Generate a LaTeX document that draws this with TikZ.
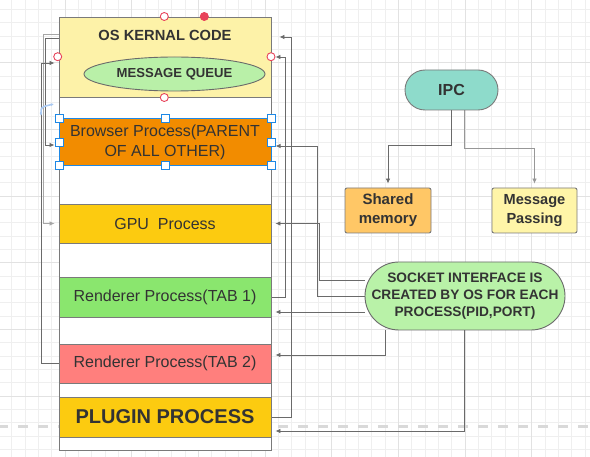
\documentclass[tikz,border=0pt]{standalone}
\usepackage{fontspec}
\setmainfont{Liberation Sans}
\usetikzlibrary{arrows.meta,shapes.geometric,calc}
\pgfdeclarelayer{bg}
\pgfdeclarelayer{conn}
\pgfsetlayers{bg,conn,main}
\definecolor{txt}{HTML}{333333}
\definecolor{boxline}{HTML}{7A7A7A}
\definecolor{connc}{HTML}{6A6A6A}
\definecolor{gridminor}{HTML}{EFEFEF}
\definecolor{gridmajor}{HTML}{E2E2E2}
\definecolor{dashc}{HTML}{D9D9D9}
\definecolor{kernelc}{HTML}{FDF2A8}
\definecolor{mqc}{HTML}{B9F0A8}
\definecolor{browserc}{HTML}{F28C00}
\definecolor{goldc}{HTML}{FCCB10}
\definecolor{tabonec}{HTML}{8AE66E}
\definecolor{tabtwoc}{HTML}{FF7F7D}
\definecolor{ipcc}{HTML}{8EDBCB}
\definecolor{sharedc}{HTML}{FFC766}
\definecolor{msgc}{HTML}{FFF5A8}
\definecolor{socketc}{HTML}{B9F2A8}
\definecolor{handleblue}{HTML}{1E88E5}
\definecolor{portred}{HTML}{E8435A}
\definecolor{rotc}{HTML}{A9C9F2}
\begin{document}
\begin{tikzpicture}[x=1pt,y=-1pt,
  box/.style={draw=boxline, line width=0.9pt, minimum width=212pt, inner sep=0pt, text=txt, align=center},
  conn/.style={draw=connc, line width=0.8pt, -{Latex[length=5pt,width=4.5pt]}, shorten >=4pt},
  handle/.style={draw=handleblue, fill=white, line width=1pt, minimum size=8pt, inner sep=0pt},
  port/.style={circle, draw=portred, fill=white, line width=0.9pt, minimum size=8pt, inner sep=0pt},
  regular/.style={font=\fontsize{16}{20}\selectfont},
  boldtxt/.style={font=\fontsize{#1}{19}\selectfont\bfseries}
]
\useasboundingbox (0,0) rectangle (590,457);
\begin{pgfonlayer}{bg}
  \fill[white] (0,0) rectangle (590,457);
  \foreach \i in {0,...,43} \draw[gridminor, line width=0.6pt] ({11.667+13.333*\i},0) -- ++(0,457);
  \foreach \j in {0,...,33} \draw[gridminor, line width=0.6pt] (0,{9.333+13.333*\j}) -- ++(590,0);
  \foreach \i in {0,...,8} \draw[gridmajor, line width=0.8pt] ({65+66.667*\i},0) -- ++(0,457);
  \foreach \j in {0,...,6} \draw[gridmajor, line width=0.8pt] (0,{62.667+66.667*\j}) -- ++(590,0);
  \draw[dashc, line width=3pt, dash pattern=on 10pt off 10pt] (-2,427) -- (590,427);
\end{pgfonlayer}

% outer column
\node[box, minimum height=433pt, fill=white] (outer) at (165,233.5) {};
\node[box, minimum height=80pt, fill=kernelc] (kernel) at (165,57) {};
\node[boldtxt=14.7, text=txt] (ktitle) at (165,35) {OS KERNAL CODE};
\node[ellipse, draw=connc, line width=0.9pt, fill=mqc, minimum width=181pt, minimum height=34pt, inner sep=0pt, boldtxt=13.1, text=txt] (mq) at (174.5,74) {MESSAGE QUEUE};

\node[box, draw=handleblue, line width=1pt, minimum height=47pt, fill=browserc, regular] (browser) at (165,142.5) {Browser Process(PARENT\\OF ALL OTHER)};
\node[box, minimum height=39pt, fill=goldc, regular] (gpu) at (165,223.5) {GPU\ \ Process};
\node[box, minimum height=40pt, fill=tabonec, regular] (tab1) at (165,297) {Renderer Process(TAB 1)};
\node[box, minimum height=39pt, fill=tabtwoc, regular] (tab2) at (165,363.5) {Renderer Process(TAB 2)};
\node[box, minimum height=40pt, fill=goldc, boldtxt=20] (plugin) at (165,417) {PLUGIN PROCESS};

% right side
\node[draw=boxline, line width=0.9pt, fill=ipcc, rounded corners=20pt, minimum width=93pt, minimum height=40pt, inner sep=0pt, boldtxt=16, text=txt] (ipc) at (451.5,90) {IPC};
\node[draw=boxline, line width=0.9pt, fill=sharedc, rounded corners=2pt, minimum width=86pt, minimum height=45pt, inner sep=0pt, align=center, boldtxt=15, text=txt] (shared) at (388,210.5) {Shared\\memory};
\node[draw=boxline, line width=0.9pt, fill=msgc, rounded corners=2pt, minimum width=85pt, minimum height=45pt, inner sep=0pt, align=center, boldtxt=14.6, text=txt] (msgp) at (534.5,210.5) {Message\\Passing};
\node[draw=connc, line width=0.9pt, fill=socketc, rounded corners=34pt, minimum width=200pt, minimum height=68pt, inner sep=0pt, align=center, font=\fontsize{13.7}{17}\selectfont\bfseries, text=txt] (socket) at (465,296) {SOCKET INTERFACE IS\\CREATED BY OS FOR EACH\\PROCESS(PID,PORT)};

% connectors
\begin{pgfonlayer}{conn}
  \draw[conn] (ipc.south) -- ++(0,35) -| (shared.north);
  \draw[conn, draw=connc!70] ([xshift=12.5pt]ipc.south) -- ++(0,38) -| (msgp.north);
  % right column side
  \draw[conn, shorten >=8pt] (plugin.east) -- ++(20,0) |- ([yshift=20pt]kernel.east);
  \draw[conn] (tab1.east) -- ++(14,0) |- (kernel.east);
  \draw[conn] (socket.west) -- ++(-47,0) |- ([yshift=-3.5pt]browser.east);
  \draw[conn] ([yshift=16pt]socket.west) -- ++(-45,0) |- (gpu.east);
  \draw[conn] ([yshift=-16pt]socket.west) -- ([yshift=-15pt]tab1.east);
  \draw[conn] ([xshift=-80pt]socket.south) |- ([yshift=8.5pt]tab2.east);
  \draw[conn] ([xshift=-1pt]socket.south) |- ([yshift=-14pt]plugin.east);
  % left column side
  \draw[conn, draw=connc!60] ([yshift=23pt]kernel.west) -- ++(-15,0) |- (gpu.west);
  \draw[conn] ([yshift=19pt]kernel.west) -- ++(-13,0) |- ([yshift=-2.5pt]browser.west);
  \draw[conn] (tab2.west) -- ++(-17,0) |- ([yshift=-6pt]kernel.west);
\end{pgfonlayer}

% editor marks
\foreach \p [count=\i] in {(59,119),(165,119),(271,119),(59,142.5),(271,142.5),(59,166),(165,166),(271,166)}
  \node[handle] (hd\i) at \p {};
\node[port] (pa) at (164.3,16.5) {};
\node[port, fill=portred] (pb) at (204.3,16.5) {};
\node[port] (pc) at (57.7,56.7) {};
\node[port] (pd) at (271,56.7) {};
\node[port] (pe) at (164.3,97.5) {};
\draw[rotc, line width=1.6pt, {Latex[length=3pt,width=3pt]}-{Latex[length=3pt,width=3pt]}] (41,116) .. controls (41,107) .. (54,104);
\end{tikzpicture}
\end{document}
